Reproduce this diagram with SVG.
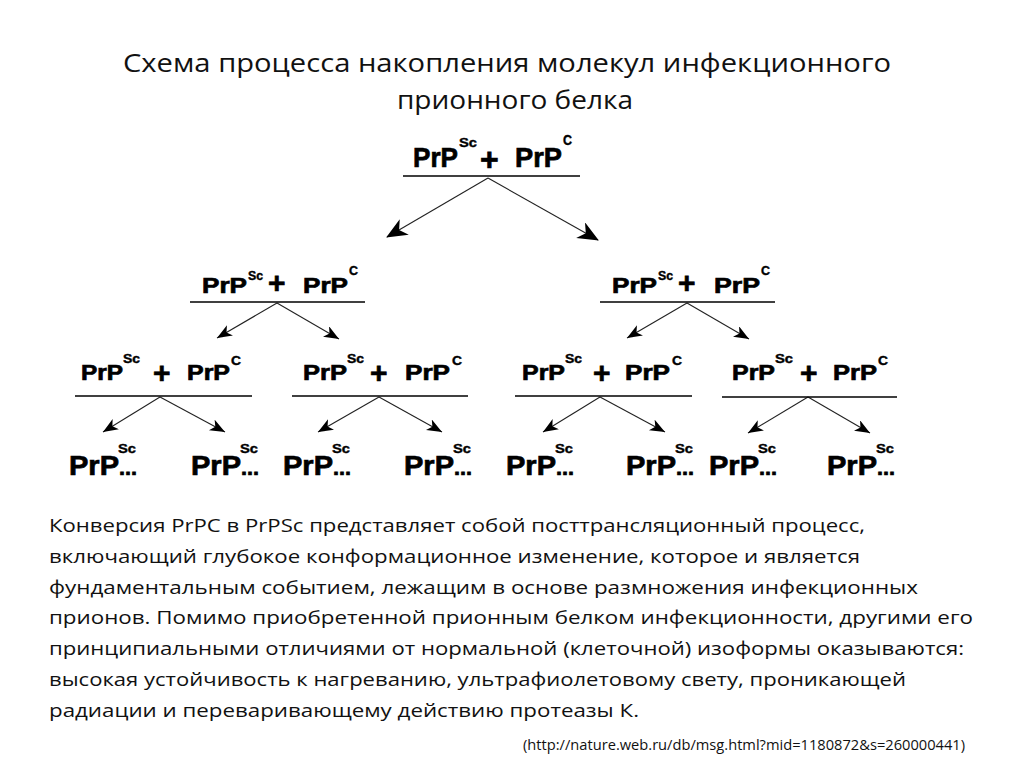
<svg xmlns="http://www.w3.org/2000/svg" width="1024" height="767" viewBox="0 0 1024 767">
<style>
.p{font-family:"Liberation Sans",Arial,sans-serif;font-weight:bold;fill:#000;stroke:#000;stroke-width:0.7}
.sup{stroke-width:0.4}
.bar{stroke:#000;stroke-width:1.6}
.c{stroke:#222;stroke-width:1.1;fill:none}
.t{font-family:"Open Sans","Liberation Sans",sans-serif;fill:#111}
</style>
<defs>
<marker id="ab" markerUnits="userSpaceOnUse" markerWidth="24" markerHeight="20" refX="20" refY="9" orient="auto">
<path d="M0,0 L21,9 L0,18 L6,9 z" fill="#000"/>
</marker>
<marker id="as" markerUnits="userSpaceOnUse" markerWidth="18" markerHeight="14" refX="15" refY="6" orient="auto">
<path d="M0,0 L15,6 L0,12 L4,6 z" fill="#000"/>
</marker>
</defs>
<rect width="1024" height="767" fill="#fff"/>
<g id="title">
<text class="t" x="123" y="72" font-size="26" textLength="768" lengthAdjust="spacingAndGlyphs">Схема процесса накопления молекул инфекционного</text>
<text class="t" x="397" y="109" font-size="26" textLength="236" lengthAdjust="spacingAndGlyphs">прионного белка</text>
</g>
<g id="connectors">
<line class="c" x1="488" y1="178" x2="387" y2="237" marker-end="url(#ab)"/>
<line class="c" x1="488" y1="178" x2="598" y2="240" marker-end="url(#ab)"/>
<line class="c" x1="277" y1="303" x2="217" y2="338" marker-end="url(#as)"/>
<line class="c" x1="277" y1="303" x2="339" y2="339" marker-end="url(#as)"/>
<line class="c" x1="687" y1="303" x2="627" y2="338" marker-end="url(#as)"/>
<line class="c" x1="687" y1="303" x2="749" y2="339" marker-end="url(#as)"/>
<line class="c" x1="160" y1="397" x2="103" y2="432" marker-end="url(#as)"/>
<line class="c" x1="160" y1="397" x2="225" y2="432" marker-end="url(#as)"/>
<line class="c" x1="379" y1="397" x2="318" y2="432" marker-end="url(#as)"/>
<line class="c" x1="379" y1="397" x2="442" y2="432" marker-end="url(#as)"/>
<line class="c" x1="600" y1="397" x2="543" y2="432" marker-end="url(#as)"/>
<line class="c" x1="600" y1="397" x2="665" y2="432" marker-end="url(#as)"/>
<line class="c" x1="808" y1="397" x2="748" y2="433" marker-end="url(#as)"/>
<line class="c" x1="808" y1="397" x2="870" y2="433" marker-end="url(#as)"/>
</g>
<g id="n0">
<text class="p" font-size="28"><tspan x="413" y="167" textLength="45" lengthAdjust="spacingAndGlyphs">PrP</tspan><tspan class="sup" x="459" y="147" font-size="13" textLength="18" lengthAdjust="spacingAndGlyphs">Sc</tspan><tspan x="480" y="170" font-size="32">+</tspan><tspan x="515" y="167" textLength="47" lengthAdjust="spacingAndGlyphs">PrP</tspan><tspan class="sup" x="563" y="145" font-size="14" textLength="9" lengthAdjust="spacingAndGlyphs">C</tspan></text>
<line class="bar" x1="403" y1="176" x2="580" y2="176"/>
</g>
<g id="n1">
<text class="p" font-size="22"><tspan x="202" y="293" textLength="45" lengthAdjust="spacingAndGlyphs">PrP</tspan><tspan class="sup" x="248" y="280" font-size="12" textLength="15" lengthAdjust="spacingAndGlyphs">Sc</tspan><tspan x="268" y="293" font-size="30">+</tspan><tspan x="303" y="293" textLength="45" lengthAdjust="spacingAndGlyphs">PrP</tspan><tspan class="sup" x="349" y="275" font-size="13" textLength="9" lengthAdjust="spacingAndGlyphs">C</tspan></text>
<line class="bar" x1="190" y1="302" x2="365" y2="302"/>
</g>
<g id="n2">
<text class="p" font-size="22"><tspan x="612" y="293" textLength="45" lengthAdjust="spacingAndGlyphs">PrP</tspan><tspan class="sup" x="658" y="280" font-size="12" textLength="15" lengthAdjust="spacingAndGlyphs">Sc</tspan><tspan x="678" y="293" font-size="30">+</tspan><tspan x="714" y="293" textLength="46" lengthAdjust="spacingAndGlyphs">PrP</tspan><tspan class="sup" x="761" y="275" font-size="13" textLength="9" lengthAdjust="spacingAndGlyphs">C</tspan></text>
<line class="bar" x1="600" y1="302" x2="775" y2="302"/>
</g>
<g id="n3">
<text class="p" font-size="22"><tspan x="81" y="380" textLength="42" lengthAdjust="spacingAndGlyphs">PrP</tspan><tspan class="sup" x="123" y="363" font-size="12" textLength="17" lengthAdjust="spacingAndGlyphs">Sc</tspan><tspan x="153" y="383" font-size="30">+</tspan><tspan x="187" y="380" textLength="43" lengthAdjust="spacingAndGlyphs">PrP</tspan><tspan class="sup" x="231" y="365" font-size="13" textLength="10" lengthAdjust="spacingAndGlyphs">C</tspan></text>
<line class="bar" x1="75" y1="396" x2="252" y2="396"/>
</g>
<g id="n4">
<text class="p" font-size="22"><tspan x="303" y="380" textLength="44" lengthAdjust="spacingAndGlyphs">PrP</tspan><tspan class="sup" x="347" y="363" font-size="12" textLength="17" lengthAdjust="spacingAndGlyphs">Sc</tspan><tspan x="370" y="383" font-size="30">+</tspan><tspan x="405" y="380" textLength="45" lengthAdjust="spacingAndGlyphs">PrP</tspan><tspan class="sup" x="452" y="365" font-size="13" textLength="10" lengthAdjust="spacingAndGlyphs">C</tspan></text>
<line class="bar" x1="292" y1="396" x2="468" y2="396"/>
</g>
<g id="n5">
<text class="p" font-size="22"><tspan x="522" y="380" textLength="43" lengthAdjust="spacingAndGlyphs">PrP</tspan><tspan class="sup" x="565" y="363" font-size="12" textLength="17" lengthAdjust="spacingAndGlyphs">Sc</tspan><tspan x="593" y="383" font-size="30">+</tspan><tspan x="625" y="380" textLength="45" lengthAdjust="spacingAndGlyphs">PrP</tspan><tspan class="sup" x="672" y="365" font-size="13" textLength="10" lengthAdjust="spacingAndGlyphs">C</tspan></text>
<line class="bar" x1="515" y1="396" x2="692" y2="396"/>
</g>
<g id="n6">
<text class="p" font-size="22"><tspan x="732" y="380" textLength="43" lengthAdjust="spacingAndGlyphs">PrP</tspan><tspan class="sup" x="775" y="363" font-size="12" textLength="18" lengthAdjust="spacingAndGlyphs">Sc</tspan><tspan x="800" y="383" font-size="30">+</tspan><tspan x="833" y="380" textLength="44" lengthAdjust="spacingAndGlyphs">PrP</tspan><tspan class="sup" x="878" y="365" font-size="13" textLength="10" lengthAdjust="spacingAndGlyphs">C</tspan></text>
<line class="bar" x1="722" y1="397" x2="897" y2="397"/>
</g>
<g id="n7"><text class="p" font-size="27"><tspan x="69" y="475" textLength="50" lengthAdjust="spacingAndGlyphs">PrP</tspan><tspan class="sup" x="118" y="453" font-size="13" textLength="18" lengthAdjust="spacingAndGlyphs">Sc</tspan><tspan x="119" y="475" font-size="20" textLength="18" lengthAdjust="spacingAndGlyphs">...</tspan></text></g>
<g id="n8"><text class="p" font-size="27"><tspan x="191" y="475" textLength="50" lengthAdjust="spacingAndGlyphs">PrP</tspan><tspan class="sup" x="240" y="453" font-size="13" textLength="18" lengthAdjust="spacingAndGlyphs">Sc</tspan><tspan x="241" y="475" font-size="20" textLength="18" lengthAdjust="spacingAndGlyphs">...</tspan></text></g>
<g id="n9"><text class="p" font-size="27"><tspan x="283" y="475" textLength="50" lengthAdjust="spacingAndGlyphs">PrP</tspan><tspan class="sup" x="332" y="453" font-size="13" textLength="18" lengthAdjust="spacingAndGlyphs">Sc</tspan><tspan x="333" y="475" font-size="20" textLength="18" lengthAdjust="spacingAndGlyphs">...</tspan></text></g>
<g id="n10"><text class="p" font-size="27"><tspan x="404" y="475" textLength="50" lengthAdjust="spacingAndGlyphs">PrP</tspan><tspan class="sup" x="453" y="453" font-size="13" textLength="18" lengthAdjust="spacingAndGlyphs">Sc</tspan><tspan x="454" y="475" font-size="20" textLength="18" lengthAdjust="spacingAndGlyphs">...</tspan></text></g>
<g id="n11"><text class="p" font-size="27"><tspan x="506" y="475" textLength="50" lengthAdjust="spacingAndGlyphs">PrP</tspan><tspan class="sup" x="555" y="453" font-size="13" textLength="18" lengthAdjust="spacingAndGlyphs">Sc</tspan><tspan x="556" y="475" font-size="20" textLength="18" lengthAdjust="spacingAndGlyphs">...</tspan></text></g>
<g id="n12"><text class="p" font-size="27"><tspan x="626" y="475" textLength="50" lengthAdjust="spacingAndGlyphs">PrP</tspan><tspan class="sup" x="675" y="453" font-size="13" textLength="18" lengthAdjust="spacingAndGlyphs">Sc</tspan><tspan x="676" y="475" font-size="20" textLength="18" lengthAdjust="spacingAndGlyphs">...</tspan></text></g>
<g id="n13"><text class="p" font-size="27"><tspan x="709" y="475" textLength="50" lengthAdjust="spacingAndGlyphs">PrP</tspan><tspan class="sup" x="758" y="453" font-size="13" textLength="18" lengthAdjust="spacingAndGlyphs">Sc</tspan><tspan x="759" y="475" font-size="20" textLength="18" lengthAdjust="spacingAndGlyphs">...</tspan></text></g>
<g id="n14"><text class="p" font-size="27"><tspan x="827" y="475" textLength="50" lengthAdjust="spacingAndGlyphs">PrP</tspan><tspan class="sup" x="876" y="453" font-size="13" textLength="18" lengthAdjust="spacingAndGlyphs">Sc</tspan><tspan x="877" y="475" font-size="20" textLength="18" lengthAdjust="spacingAndGlyphs">...</tspan></text></g>
<g id="body">
<text class="t" x="49" y="532" font-size="19" textLength="816" lengthAdjust="spacingAndGlyphs">Конверсия PrPC в PrPSc представляет собой посттрансляционный процесс,</text>
<text class="t" x="49" y="563" font-size="19" textLength="811" lengthAdjust="spacingAndGlyphs">включающий глубокое конформационное изменение, которое и является</text>
<text class="t" x="49" y="594" font-size="19" textLength="869" lengthAdjust="spacingAndGlyphs">фундаментальным событием, лежащим в основе размножения инфекционных</text>
<text class="t" x="49" y="624" font-size="19" textLength="924" lengthAdjust="spacingAndGlyphs">прионов. Помимо приобретенной прионным белком инфекционности, другими его</text>
<text class="t" x="49" y="655" font-size="19" textLength="915" lengthAdjust="spacingAndGlyphs">принципиальными отличиями от нормальной (клеточной) изоформы оказываются:</text>
<text class="t" x="49" y="686" font-size="19" textLength="857" lengthAdjust="spacingAndGlyphs">высокая устойчивость к нагреванию, ультрафиолетовому свету, проникающей</text>
<text class="t" x="49" y="717" font-size="19" textLength="590" lengthAdjust="spacingAndGlyphs">радиации и переваривающему действию протеазы К.</text>
</g>
<g id="source">
<text class="t" x="523" y="750" font-size="14" textLength="442" lengthAdjust="spacingAndGlyphs">(http://nature.web.ru/db/msg.html?mid=1180872&amp;s=260000441)</text>
</g>
</svg>
